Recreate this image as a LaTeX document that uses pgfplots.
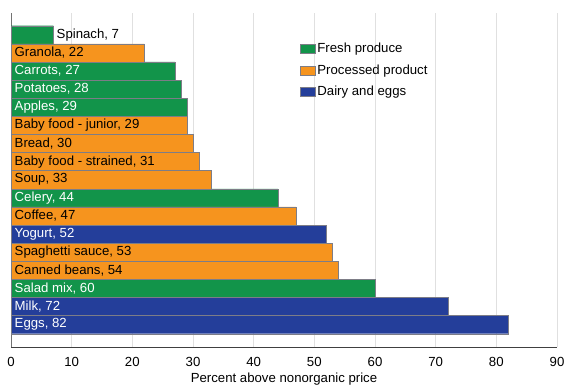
\documentclass[border=0pt]{standalone}
\usepackage{pgfplots}
\pgfplotsset{compat=1.18}
\usepackage{fontspec}
\setmainfont{Liberation Sans}
\definecolor{cgreen}{RGB}{18,148,74}
\definecolor{corange}{RGB}{246,148,30}
\definecolor{cblue}{RGB}{36,62,154}
\definecolor{cedge}{RGB}{125,125,135}
\newcommand{\fs}{\fontsize{13.2bp}{15bp}\selectfont}
\begin{document}
\fs
\begin{tikzpicture}
\begin{axis}[
  set layers,
  scale only axis, width=546bp, height=334.6bp,
  xbar, bar shift=0pt, bar width=1,
  xmin=0, xmax=90, ymin=-1.25, ymax=17.22,
  axis x line*=bottom, axis y line*=left,
  axis line style={-},
  x axis line style={draw=black!75, line width=0.8pt},
  y axis line style={draw=black!55, line width=0.8pt},
  xtick={0,10,...,90},
  xmajorgrids, grid style={black!12, line width=0.6pt},
  major tick length=0pt,
  /pgf/number format/assume math mode=true,
  xticklabel style={font=\fs, yshift=-5bp},
  xlabel={Percent above nonorganic price},
  xlabel style={font=\fs, yshift=2.5bp},
  ytick={0,...,16},
  yticklabels={
    \textcolor{white}{Eggs, 82},
    \textcolor{white}{Milk, 72},
    \textcolor{white}{Salad mix, 60},
    Canned beans{,} 54,
    Spaghetti sauce{,} 53,
    \textcolor{white}{Yogurt, 52},
    Coffee{,} 47,
    \textcolor{white}{Celery, 44},
    Soup{,} 33,
    Baby food - strained{,} 31,
    Bread{,} 30,
    Baby food - junior{,} 29,
    \textcolor{white}{Apples, 29},
    \textcolor{white}{Potatoes, 28},
    \textcolor{white}{Carrots, 27},
    Granola{,} 22,
    \hspace*{42bp}Spinach{,} 7},
  yticklabel style={anchor=west, inner sep=0pt, xshift=3.5bp, font=\fs, /pgfplots/on layer=axis foreground},
  legend style={draw=none, fill=none, at={(0.529,0.915)}, anchor=north west,
    font=\fs, row sep=6bp, inner sep=0pt,
    /tikz/every even column/.append style={column sep=6bp}},
  legend cell align=left,
  legend image code/.code={\draw[#1, draw=cedge] (0bp,-4.5bp) rectangle (15bp,4.5bp);},
  clip=false,
]
\addplot[fill=cgreen, draw=cedge] coordinates {(7,16) (27,14) (28,13) (29,12) (44,7) (60,2)};
\addlegendentry{Fresh produce}
\addplot[fill=corange, draw=cedge] coordinates {(22,15) (29,11) (30,10) (31,9) (33,8) (47,6) (53,4) (54,3)};
\addlegendentry{Processed product}
\addplot[fill=cblue, draw=cedge] coordinates {(52,5) (72,1) (82,0)};
\addlegendentry{Dairy and eggs}
\end{axis}
\path (current axis.south west) ++(-11bp,-38.7bp) coordinate (bbA);
\path (current axis.north east) ++(9bp,12.7bp) coordinate (bbB);
\pgfresetboundingbox
\path[use as bounding box] (bbA) rectangle (bbB);
\end{tikzpicture}
\end{document}
